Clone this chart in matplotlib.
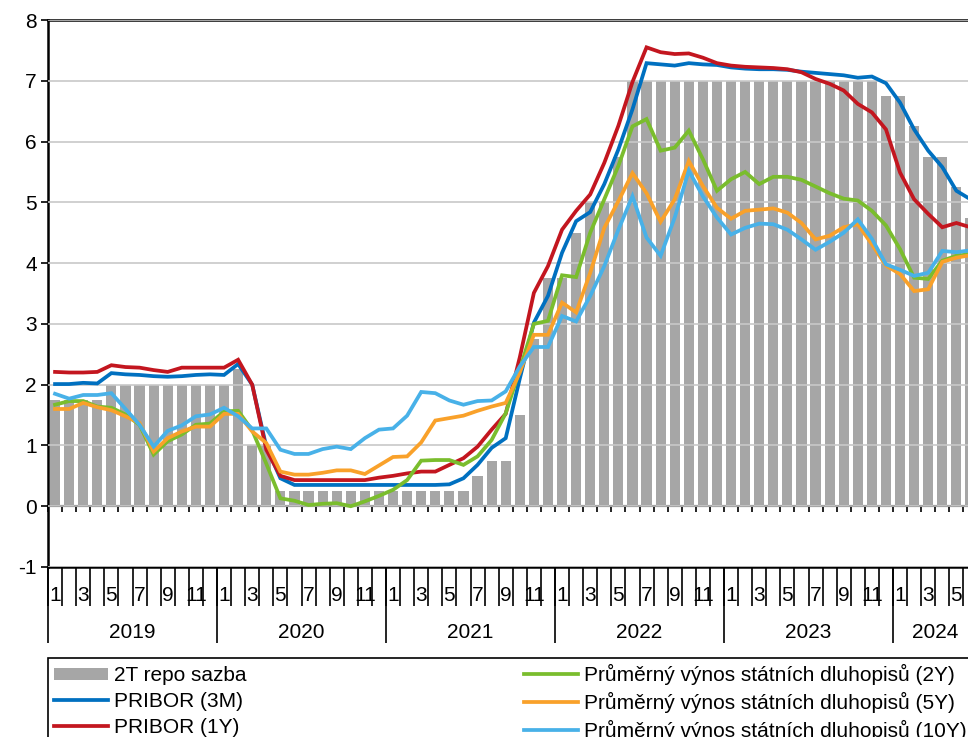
#!/usr/bin/env python3
# -*- coding: utf-8 -*-
# plot.py

import matplotlib
matplotlib.use('Agg')
import matplotlib.pyplot as plt
import numpy as np

plt.rcParams['font.family'] = ['Liberation Sans', 'DejaVu Sans']
plt.rcParams['axes.unicode_minus'] = False

# Monthly data, 1/2019 - 6/2024 (%)
years = ['2019', '2020', '2021', '2022', '2023', '2024']
months_per_year = [12, 12, 12, 12, 12, 6]

repo = [1.75, 1.75, 1.75, 1.75, 2.00, 2.00, 2.00, 2.00, 2.00, 2.00, 2.00, 2.00,
        2.00, 2.25, 1.00, 1.00, 0.25, 0.25, 0.25, 0.25, 0.25, 0.25, 0.25, 0.25,
        0.25, 0.25, 0.25, 0.25, 0.25, 0.25, 0.50, 0.75, 0.75, 1.50, 2.75, 3.75,
        3.75, 4.50, 5.00, 5.00, 5.75, 7.00, 7.00, 7.00, 7.00, 7.00, 7.00, 7.00,
        7.00, 7.00, 7.00, 7.00, 7.00, 7.00, 7.00, 7.00, 7.00, 7.00, 7.00, 6.75,
        6.75, 6.25, 5.75, 5.75, 5.25, 4.75]

pribor_3m = [2.01, 2.01, 2.03, 2.02, 2.19, 2.17, 2.16, 2.14, 2.13, 2.14, 2.16, 2.17,
             2.16, 2.34, 2.00, 0.98, 0.46, 0.35, 0.35, 0.35, 0.35, 0.35, 0.35, 0.35,
             0.35, 0.35, 0.35, 0.35, 0.36, 0.46, 0.68, 0.96, 1.12, 2.10, 3.02, 3.46,
             4.17, 4.69, 4.84, 5.30, 5.87, 6.53, 7.29, 7.27, 7.25, 7.29, 7.27, 7.26,
             7.22, 7.20, 7.19, 7.19, 7.18, 7.15, 7.13, 7.11, 7.09, 7.05, 7.07, 6.96,
             6.64, 6.20, 5.85, 5.58, 5.19, 5.05]

pribor_1y = [2.21, 2.20, 2.20, 2.21, 2.32, 2.29, 2.28, 2.24, 2.21, 2.28, 2.28, 2.28,
             2.28, 2.41, 2.00, 0.93, 0.50, 0.43, 0.43, 0.43, 0.43, 0.43, 0.43, 0.47,
             0.50, 0.54, 0.57, 0.57, 0.68, 0.79, 0.98, 1.26, 1.52, 2.45, 3.51, 3.95,
             4.55, 4.86, 5.13, 5.65, 6.26, 6.98, 7.55, 7.47, 7.44, 7.45, 7.38, 7.29,
             7.25, 7.23, 7.22, 7.21, 7.19, 7.14, 7.03, 6.95, 6.84, 6.62, 6.48, 6.20,
             5.49, 5.05, 4.81, 4.59, 4.66, 4.59]

bond_2y = [1.67, 1.73, 1.73, 1.64, 1.62, 1.51, 1.34, 0.85, 1.07, 1.18, 1.34, 1.36,
           1.56, 1.57, 1.25, 0.70, 0.13, 0.09, 0.02, 0.04, 0.05, 0.00, 0.08, 0.17,
           0.27, 0.43, 0.75, 0.76, 0.76, 0.68, 0.82, 1.09, 1.53, 2.25, 3.00, 3.05,
           3.80, 3.77, 4.50, 5.05, 5.60, 6.25, 6.37, 5.85, 5.90, 6.18, 5.71, 5.19,
           5.38, 5.50, 5.30, 5.42, 5.42, 5.37, 5.26, 5.15, 5.06, 5.03, 4.86, 4.62,
           4.23, 3.76, 3.74, 4.04, 4.12, 4.15]

bond_5y = [1.60, 1.60, 1.70, 1.63, 1.58, 1.48, 1.37, 0.90, 1.12, 1.23, 1.31, 1.31,
           1.52, 1.52, 1.23, 1.04, 0.57, 0.52, 0.52, 0.55, 0.59, 0.59, 0.53, 0.67,
           0.81, 0.82, 1.05, 1.41, 1.45, 1.49, 1.57, 1.64, 1.70, 2.20, 2.82, 2.82,
           3.35, 3.19, 3.84, 4.58, 5.02, 5.48, 5.15, 4.68, 5.05, 5.68, 5.27, 4.91,
           4.73, 4.86, 4.88, 4.90, 4.83, 4.66, 4.39, 4.45, 4.59, 4.64, 4.31, 3.96,
           3.82, 3.54, 3.57, 4.02, 4.09, 4.13]

bond_10y = [1.85, 1.77, 1.83, 1.83, 1.86, 1.60, 1.34, 0.98, 1.24, 1.33, 1.48, 1.51,
            1.62, 1.48, 1.28, 1.28, 0.93, 0.86, 0.86, 0.94, 0.98, 0.94, 1.12, 1.26,
            1.28, 1.49, 1.88, 1.86, 1.74, 1.67, 1.73, 1.74, 1.89, 2.30, 2.62, 2.62,
            3.13, 3.04, 3.46, 3.95, 4.55, 5.10, 4.42, 4.12, 4.75, 5.52, 5.10, 4.75,
            4.47, 4.58, 4.65, 4.64, 4.55, 4.39, 4.22, 4.35, 4.50, 4.72, 4.40, 3.98,
            3.89, 3.79, 3.84, 4.20, 4.18, 4.21]

labels = ['2T repo sazba', 'PRIBOR (3M)', 'PRIBOR (1Y)',
          'Průměrný výnos státních dluhopisů (2Y)',
          'Průměrný výnos státních dluhopisů (5Y)',
          'Průměrný výnos státních dluhopisů (10Y)']
colors = ['#a6a6a6', '#0070c0', '#c3161f', '#7abd2d', '#f9a12a', '#48b1e8']

month_numbers = [m for n in months_per_year for m in range(1, n + 1)]
x = np.arange(len(repo))
FS = 15

# Figure: plot area runs past the right edge like the cropped original
fig = plt.figure(figsize=(9.68, 7.37), dpi=100)
cell = 845 / 60  # px per month
ax = fig.add_axes([48 / 968, 1 - 567 / 737, len(x) * cell / 968, 547 / 737])

ax.bar(x, repo, width=0.72, color=colors[0], label=labels[0], zorder=1)
series = [pribor_3m, pribor_1y, bond_2y, bond_5y, bond_10y]
for values, color, label in zip(series, colors[1:], labels[1:]):
    ax.plot(x, values, color=color, linewidth=2.7, label=label, zorder=3,
            solid_joinstyle='miter')

ax.set_xlim(-0.5, len(x) - 0.5)
ax.set_ylim(-1, 8)
ax.set_yticks(range(-1, 9))
ax.set_axisbelow(False)
ax.yaxis.grid(True, color='#c8c8c8', linewidth=1.2)
ax.tick_params(axis='y', direction='out', length=5, width=1.2, labelsize=FS, pad=3)

for side in ['left', 'top', 'bottom']:
    ax.spines[side].set_linewidth(1.8)
    ax.spines[side].set_color('black')
ax.spines['right'].set_visible(False)

# Month ticks and labels (odd months)
bounds = np.arange(len(x) + 1) - 0.5
odd = [i for i, m in enumerate(month_numbers) if m % 2 == 1]
ax.set_xticks(odd, [str(month_numbers[i]) for i in odd])
ax.set_xticks(bounds, minor=True)
ax.tick_params(axis='x', which='major', length=0, pad=14, labelsize=FS)
ax.tick_params(axis='x', which='minor', length=28, width=1.2, direction='out')

# Year separators and labels
edges = np.concatenate([[0], np.cumsum(months_per_year)]) - 0.5
centers = (edges[:-1] + edges[1:]) / 2
secax = ax.secondary_xaxis('bottom')
secax.set_xticks(edges, [''] * len(edges))
secax.set_xticks(centers, years, minor=True)
secax.tick_params(axis='x', which='major', length=55, width=1.2, direction='out')
secax.tick_params(axis='x', which='minor', length=0, pad=40, labelsize=FS)
secax.spines['bottom'].set_visible(False)

# Zero line with small month ticks
zax = ax.secondary_xaxis(1 / 9)
zax.set_xticks(bounds, [''] * len(bounds))
zax.tick_params(axis='x', which='major', length=4.5, width=1.2, direction='out')
zax.spines['bottom'].set_linewidth(1.5)

# Legend below the chart (cut by the bottom edge, as in the original)
handles, leg_labels = ax.get_legend_handles_labels()
order = [leg_labels.index(l) for l in labels]
leg = fig.legend([handles[i] for i in order], [leg_labels[i] for i in order],
                 loc='upper left', bbox_to_anchor=(48 / 968, 1 - 658 / 737),
                 ncol=2, fontsize=FS, frameon=True, fancybox=False,
                 edgecolor='black', framealpha=1, borderaxespad=0,
                 handlelength=2.6, handleheight=0.55, handletextpad=0.25,
                 columnspacing=13.35, borderpad=0.3, labelspacing=0.33)
leg.get_frame().set_linewidth(1.2)

fig.savefig('out.png', dpi=100)
